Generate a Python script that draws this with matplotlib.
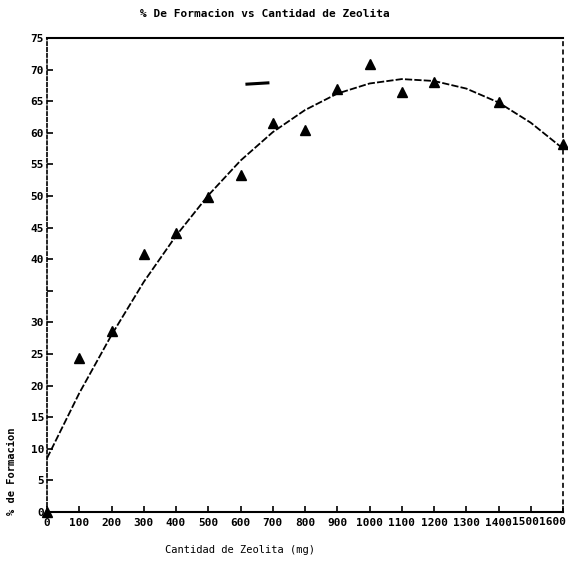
import matplotlib
matplotlib.use("Agg")
import matplotlib.pyplot as plt

# data
zeolita_mg = [0, 100, 200, 300, 400, 500, 600, 700, 800, 900, 1000, 1100, 1200, 1400, 1600]
formacion = [0, 24.3, 28.7, 40.8, 44.2, 49.9, 53.4, 61.5, 60.5, 66.9, 70.9, 66.5, 68.0, 64.9, 58.3]

# trend curve, every 100 mg
curva_x = [0, 100, 200, 300, 400, 500, 600, 700, 800, 900, 1000, 1100, 1200, 1300, 1400, 1500, 1600]
curva_y = [8.5, 18.8, 28.0, 36.4, 43.7, 50.1, 55.6, 60.1, 63.6, 66.2, 67.8, 68.5, 68.2, 67.0, 64.8, 61.6, 57.5]

# stray dash near the top
raya_x = [620, 685]
raya_y = [67.7, 67.9]

x_ticks = list(range(0, 1700, 100))
x_labels = [str(v) for v in x_ticks]
x_labels[-2] = ""  # 1500 and 1600 run together, drawn as one text below
x_labels[-1] = ""
y_ticks = list(range(0, 80, 5))
y_labels = [str(v) for v in y_ticks]
y_labels[7] = ""  # 35 is not printed

mono = "DejaVu Sans Mono"

fig = plt.figure(figsize=(5.68, 5.69), dpi=100)
ax = fig.add_axes([47 / 568, 1 - 512 / 569, 516 / 568, 474 / 569])

ax.plot(curva_x, curva_y, color="black", linewidth=1.3, linestyle=(0, (4, 1.2)))
ax.plot(zeolita_mg, formacion, linestyle="none", marker="^", markersize=6.5,
        color="black", clip_on=False)
ax.plot(raya_x, raya_y, color="black", linewidth=2.2)

ax.set_xlim(0, 1600)
ax.set_ylim(0, 75)

ax.spines["top"].set_linewidth(1.5)
ax.spines["bottom"].set_linewidth(1.5)
ax.spines["left"].set_linestyle((0, (2, 1.5)))
ax.spines["left"].set_linewidth(1.2)
ax.spines["right"].set_linestyle((0, (2, 3)))
ax.spines["right"].set_linewidth(1.2)

ax.set_xticks(x_ticks)
ax.set_xticklabels(x_labels, fontfamily=mono, fontweight="bold", fontsize=8)
ax.set_yticks(y_ticks)
ax.set_yticklabels(y_labels, fontfamily=mono, fontweight="bold", fontsize=8)
ax.tick_params(axis="x", direction="in", length=4, width=1.2, pad=4)
ax.tick_params(axis="y", direction="in", length=4, width=1.2, pad=2)
ax.text(1.006, -0.0105, "15001600", ha="right", va="top", fontfamily=mono,
        fontweight="bold", fontsize=8, transform=ax.transAxes)

fig.text(265 / 568, 1 - 14 / 569, "% De Formacion vs Cantidad de Zeolita",
         ha="center", va="center", fontfamily=mono, fontweight="bold", fontsize=8)
fig.text(240 / 568, 1 - 550 / 569, "Cantidad de Zeolita (mg)",
         ha="center", va="center", fontfamily=mono, fontsize=7.5)
fig.text(12 / 568, 1 - 515 / 569, "% de Formacion", rotation=90,
         ha="center", va="bottom", fontfamily=mono, fontweight="bold", fontsize=7.5)

fig.savefig("out.png", dpi=100)
